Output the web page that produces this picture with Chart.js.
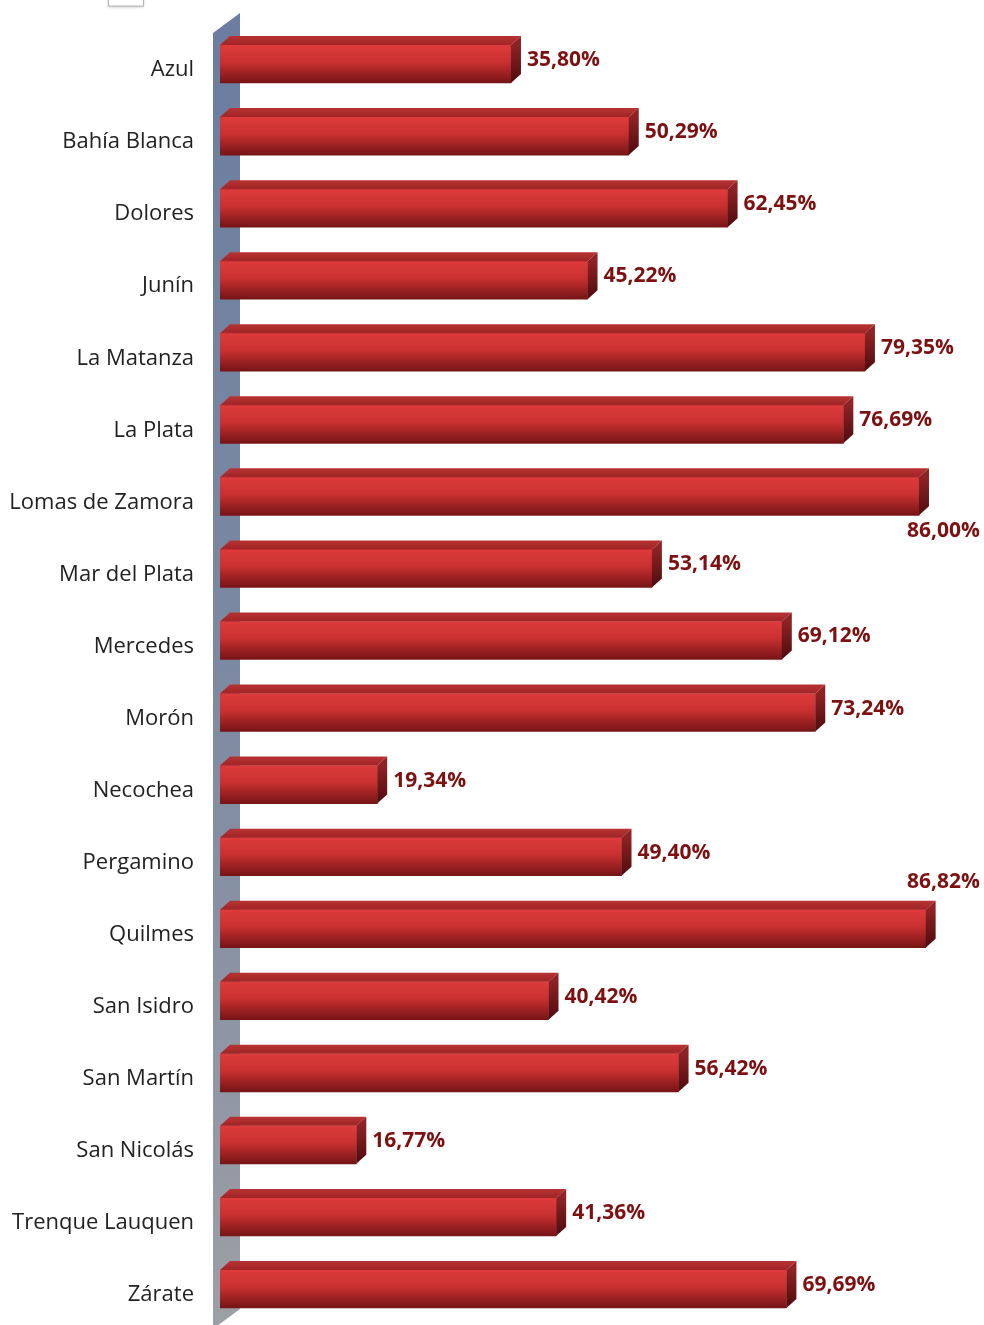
<!DOCTYPE html>
<html><head><meta charset="utf-8">
<script src="https://cdn.jsdelivr.net/npm/chart.js@4"></script>
<style>html,body{margin:0;padding:0;background:#fff;} #wrap{width:984px;height:1325px;position:relative;}</style>
</head><body><div id="wrap"><canvas id="c"></canvas></div>
<script>
const categories = ['Azul','Bahía Blanca','Dolores','Junín','La Matanza','La Plata','Lomas de Zamora','Mar del Plata','Mercedes','Morón','Necochea','Pergamino','Quilmes','San Isidro','San Martín','San Nicolás','Trenque Lauquen','Zárate'];
const values = [35.80,50.29,62.45,45.22,79.35,76.69,86.00,53.14,69.12,73.24,19.34,49.40,86.82,40.42,56.42,16.77,41.36,69.69];
const labelPlacement = ['right','right','right','right','right','right','below','right','right','right','right','right','above','right','right','right','right','right'];

const DX = 10, DY = 9;
function fmt(v){ return v.toFixed(2).replace('.', ',') + '%'; }

const bar3d = {
  id: 'bar3d',
  beforeDatasetsDraw(chart){
    const c = chart.ctx, L = chart.chartArea.left, H = chart.height;
    c.save();
    const g = c.createLinearGradient(0, 0, 0, H);
    g.addColorStop(0, '#6a7da0');
    g.addColorStop(0.5, '#7c89a2');
    g.addColorStop(1, '#9c9fa6');
    c.fillStyle = g;
    c.beginPath();
    c.moveTo(L - 7, 33); c.lineTo(L + 20, 13); c.lineTo(L + 20, H - 16); c.lineTo(L - 7, H + 4);
    c.closePath(); c.fill();
    c.fillStyle = '#fff'; c.strokeStyle = '#b5b5b5'; c.lineWidth = 1;
    c.shadowColor = 'rgba(0,0,0,0.25)'; c.shadowBlur = 3; c.shadowOffsetY = 1;
    c.fillRect(108.5, -3, 35, 9); c.shadowColor = 'transparent';
    c.strokeRect(108.5, -3, 35, 9);
    c.restore();
  },
  afterDatasetsDraw(chart){
    const c = chart.ctx;
    const meta = chart.getDatasetMeta(0);
    c.save();
    meta.data.forEach((el, i) => {
      const x0 = el.base, x1 = el.x, h = el.height, yT = el.y - h/2, yB = el.y + h/2;
      if (![x0, x1, h, el.y].every(Number.isFinite)) return;
      const gt = c.createLinearGradient(0, yT - DY, 0, yT);
      gt.addColorStop(0, '#b83333'); gt.addColorStop(1, '#a02426');
      c.fillStyle = gt;
      c.beginPath();
      c.moveTo(x0, yT); c.lineTo(x1, yT); c.lineTo(x1 + DX, yT - DY); c.lineTo(x0 + DX, yT - DY);
      c.closePath(); c.fill();
      const gs = c.createLinearGradient(0, yT, 0, yB);
      gs.addColorStop(0, '#8e2224'); gs.addColorStop(1, '#4e0c0e');
      c.fillStyle = gs;
      c.beginPath();
      c.moveTo(x1, yT); c.lineTo(x1 + DX, yT - DY); c.lineTo(x1 + DX, yB - DY); c.lineTo(x1, yB);
      c.closePath(); c.fill();
      c.font = 'bold 21px "Open Sans", sans-serif';
      c.fillStyle = '#7d1010';
      c.textBaseline = 'middle';
      const txt = fmt(values[i]);
      const p = labelPlacement[i];
      if (p === 'right') { c.textAlign = 'left'; c.fillText(txt, x1 + DX + 6, el.y - 4); }
      else if (p === 'below') { c.textAlign = 'right'; c.fillText(txt, chart.width - 4, yB + 16); }
      else { c.textAlign = 'right'; c.fillText(txt, chart.width - 4, yT - DY - 19); }
    });
    c.restore();
  }
};

new Chart(document.getElementById('c'), {
  type: 'bar',
  data: {
    labels: categories,
    datasets: [{
      data: values,
      barThickness: 38,
      borderWidth: 0,
      backgroundColor: (ctx) => {
        const chart = ctx.chart;
        const ys = chart.scales && chart.scales.y;
        if (!ys || ctx.dataIndex === undefined || !chart.chartArea) return '#c62d2d';
        const yc = ys.getPixelForValue(ctx.dataIndex);
        if (!Number.isFinite(yc)) return '#c62d2d';
        const g = chart.ctx.createLinearGradient(0, yc - 19, 0, yc + 19);
        g.addColorStop(0, '#de3b3b');
        g.addColorStop(0.45, '#c93030');
        g.addColorStop(1, '#761416');
        return g;
      }
    }]
  },
  options: {
    indexAxis: 'y',
    responsive: true,
    maintainAspectRatio: false,
    animation: false,
    layout: { padding: { top: 28, bottom: 0, left: 0, right: 0 } },
    plugins: { legend: { display: false }, tooltip: { enabled: false } },
    scales: {
      x: { display: false, min: 0, max: 94 },
      y: {
        afterFit(s){ s.width = 220; s.paddingTop = 0; s.paddingBottom = 0; },
        grid: { display: false, drawTicks: false },
        border: { display: false },
        ticks: { padding: 26, labelOffset: 6, color: '#222', font: { family: '"Open Sans", sans-serif', size: 22 } }
      }
    }
  },
  plugins: [bar3d]
});
</script></body></html>
